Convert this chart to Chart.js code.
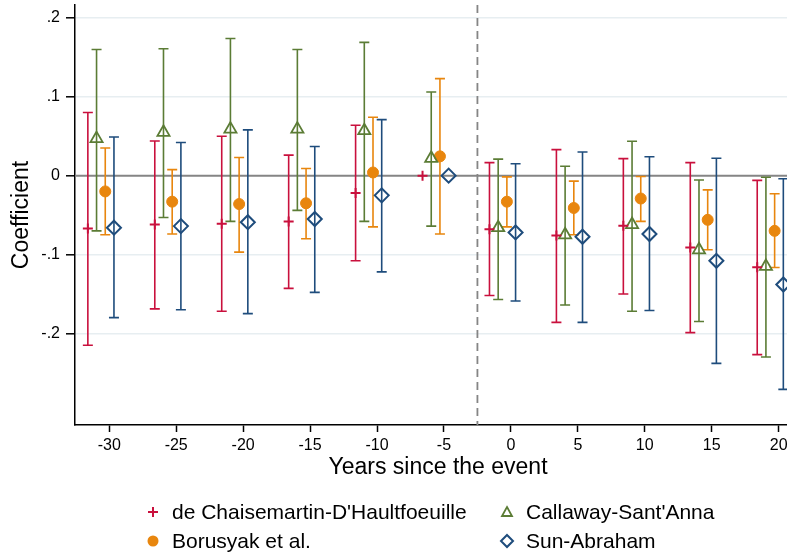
<!DOCTYPE html>
<html>
<head>
<meta charset="utf-8">
<script src="https://cdn.jsdelivr.net/npm/chart.js@4.4.1/dist/chart.umd.min.js"></script>
<style>
  html, body { margin: 0; padding: 0; background: #fff; overflow: hidden; }
  #wrap { position: relative; width: 787px; height: 553px; overflow: hidden; }
  #eventChart { position: absolute; left: 0; top: -20px; }
  #legend { position: absolute; left: 0; top: 0; width: 787px; height: 553px; pointer-events: none;
    font-family: "Liberation Sans", Arial, sans-serif; font-size: 21px; color: #000; }
  .item { position: absolute; height: 24px; line-height: 24px; white-space: nowrap; }
  .item svg { position: absolute; top: 0; }
  .item span { position: absolute; top: 0; }
</style>
</head>
<body>
<div id="wrap">
  <canvas id="eventChart" width="810" height="573"></canvas>
  <div id="legend"></div>
</div>
<script>
const years = [-30, -25, -20, -15, -10, -5, 0, 5, 10, 15, 20];
const yTicks = [-0.2, -0.1, 0, 0.1, 0.2];
const yTickLabels = ['-.2', '-.1', '0', '.1', '.2'];

// de Chaisemartin-D'Haultfoeuille
const dcdhEst = [-0.067, -0.062, -0.061, -0.058, -0.022, 0, -0.068, -0.076, -0.0635, -0.091, -0.116];
const dcdhLo = [-0.215, -0.169, -0.172, -0.143, -0.108, null, -0.152, -0.186, -0.150, -0.199, -0.227];
const dcdhHi = [0.080, 0.044, 0.050, 0.026, 0.064, null, 0.0165, 0.033, 0.0216, 0.0165, -0.006];

// Callaway-Sant'Anna
const csEst = [0.047, 0.055, 0.059, 0.059, 0.057, 0.022, -0.066, -0.075, -0.062, -0.094, -0.115];
const csLo = [-0.070, -0.053, -0.058, -0.044, -0.058, -0.064, -0.157, -0.164, -0.172, -0.185, -0.230];
const csHi = [0.160, 0.161, 0.174, 0.160, 0.169, 0.106, 0.021, 0.012, 0.0436, -0.0055, -0.002];

// Borusyak et al.
const bsEst = [-0.020, -0.033, -0.036, -0.035, 0.004, 0.0245, -0.033, -0.041, -0.029, -0.056, -0.070];
const bsLo = [-0.075, -0.074, -0.097, -0.080, -0.065, -0.074, -0.065, -0.075, -0.058, -0.094, -0.1165];
const bsHi = [0.035, 0.0076, 0.023, 0.009, 0.074, 0.123, -0.0015, -0.007, -0.001, -0.018, -0.023];

// Sun-Abraham
const saEst = [-0.066, -0.064, -0.059, -0.055, -0.025, 0, -0.072, -0.0775, -0.074, -0.108, -0.138];
const saLo = [-0.180, -0.170, -0.175, -0.148, -0.122, null, -0.159, -0.186, -0.171, -0.238, -0.271];
const saHi = [0.049, 0.042, 0.058, 0.037, 0.071, null, 0.015, 0.030, 0.024, 0.022, -0.004];

const FONT = '"Liberation Sans", Arial, sans-serif';

const series = [
  { label: "de Chaisemartin-D'Haultfoeuille", est: dcdhEst, lo: dcdhLo, hi: dcdhHi,
    color: '#c9103d', shift: -1.6, style: 'cross', radius: 5, fill: false, bw: 2 },
  { label: "Callaway-Sant'Anna", est: csEst, lo: csLo, hi: csHi,
    color: '#5b7c35', shift: -0.95, style: 'triangle', radius: 7, fill: false, bw: 1.8 },
  { label: 'Borusyak et al.', est: bsEst, lo: bsLo, hi: bsHi,
    color: '#e8860e', shift: -0.3, style: 'circle', radius: 5.5, fill: true, bw: 1 },
  { label: 'Sun-Abraham', est: saEst, lo: saLo, hi: saHi,
    color: '#1e4c7c', shift: 0.35, style: 'rectRot', radius: 7, fill: false, bw: 2 }
];

function toPoints(s) {
  return years.map((yr, i) => ({ x: yr + s.shift, y: s.est[i], lo: s.lo[i], hi: s.hi[i] }));
}

// error bars, zero line and event line, all through the chart scales
const refLines = {
  id: 'refLines',
  beforeDatasetsDraw(chart) {
    const { ctx, chartArea, scales } = chart;
    const x = scales.x, y = scales.y;
    ctx.save();
    ctx.beginPath();
    ctx.rect(chartArea.left, chartArea.top, chartArea.right - chartArea.left, chartArea.bottom - chartArea.top);
    ctx.clip();

    // zero line
    ctx.strokeStyle = '#858585';
    ctx.lineWidth = 2;
    ctx.beginPath();
    ctx.moveTo(chartArea.left, y.getPixelForValue(0));
    ctx.lineTo(chartArea.right, y.getPixelForValue(0));
    ctx.stroke();

    // event line
    const ex = x.getPixelForValue(-2.5);
    ctx.setLineDash([8, 5]);
    ctx.strokeStyle = '#858585';
    ctx.lineWidth = 1.8;
    ctx.beginPath();
    ctx.moveTo(ex, chartArea.top);
    ctx.lineTo(ex, chartArea.bottom);
    ctx.stroke();
    ctx.setLineDash([]);

    chart.data.datasets.forEach((ds) => {
      ctx.strokeStyle = ds.borderColor;
      ctx.lineWidth = 1.6;
      ds.data.forEach((p) => {
        if (p.lo === null || p.hi === null) return;
        const px = x.getPixelForValue(p.x);
        const y1 = y.getPixelForValue(p.lo);
        const y2 = y.getPixelForValue(p.hi);
        ctx.beginPath();
        ctx.moveTo(px, y1);
        ctx.lineTo(px, y2);
        ctx.moveTo(px - 5, y1);
        ctx.lineTo(px + 5, y1);
        ctx.moveTo(px - 5, y2);
        ctx.lineTo(px + 5, y2);
        ctx.stroke();
      });
    });
    ctx.restore();
  }
};

const ctx = document.getElementById('eventChart').getContext('2d');

const chart = new Chart(ctx, {
  type: 'scatter',
  data: {
    datasets: series.map(s => ({
      label: s.label,
      data: toPoints(s),
      pointStyle: s.style,
      pointRadius: s.radius,
      pointHoverRadius: s.radius,
      borderColor: s.color,
      backgroundColor: s.fill ? s.color : 'rgba(0,0,0,0)',
      borderWidth: s.bw,
      showLine: false
    }))
  },
  plugins: [refLines],
  options: {
    responsive: false,
    animation: false,
    layout: { padding: { top: 25, left: 0, right: 0, bottom: 72 } },
    plugins: {
      legend: { display: false },
      tooltip: { enabled: false }
    },
    scales: {
      x: {
        type: 'linear',
        min: -32.56,
        max: 21.67,
        afterBuildTicks: (scale) => { scale.ticks = years.map(v => ({ value: v })); },
        afterFit: (scale) => { scale.height = 56; },
        ticks: {
          color: '#000',
          font: { family: FONT, size: 16 },
          padding: 4,
          maxRotation: 0,
          callback: (v) => String(v)
        },
        grid: { drawOnChartArea: false, drawTicks: true, tickLength: 7, tickColor: '#000', tickWidth: 1.5 },
        border: { color: '#000', width: 1.5 },
        title: {
          display: true,
          text: 'Years since the event',
          color: '#000',
          font: { family: FONT, size: 23 },
          padding: { top: 0, bottom: 0 }
        }
      },
      y: {
        type: 'linear',
        min: -0.3162,
        max: 0.2164,
        afterBuildTicks: (scale) => { scale.ticks = yTicks.map(v => ({ value: v })); },
        afterFit: (scale) => { scale.width = 75; },
        ticks: {
          color: '#000',
          font: { family: FONT, size: 16 },
          padding: 6,
          callback: (v) => yTickLabels[yTicks.findIndex(t => Math.abs(t - v) < 1e-9)]
        },
        grid: {
          color: (c) => (c.tick && c.tick.value === 0 ? 'rgba(0,0,0,0)' : '#e7eef1'),
          lineWidth: 1.6,
          tickLength: 9,
          tickColor: '#000',
          tickWidth: 1.5
        },
        border: { color: '#000', width: 1.5 },
        title: {
          display: true,
          text: 'Coefficient',
          color: '#000',
          font: { family: FONT, size: 23 },
          padding: { top: 8, bottom: 0 }
        }
      }
    }
  }
});

// legend in two columns below the plot
const legendPos = [
  { left: 142, top: 500 },
  { left: 496, top: 500 },
  { left: 142, top: 529 },
  { left: 496, top: 529 }
];
const legendOrder = [0, 1, 2, 3];

function markerSvg(s) {
  const c = s.color;
  let shape = '';
  if (s.style === 'cross') {
    shape = `<path d="M11 7 V17 M6 12 H16" stroke="${c}" stroke-width="2"/>`;
  } else if (s.style === 'triangle') {
    shape = `<path d="M11 7 L16 16 L6 16 Z" fill="none" stroke="${c}" stroke-width="1.8"/>`;
  } else if (s.style === 'circle') {
    shape = `<circle cx="11" cy="12" r="5.5" fill="${c}"/>`;
  } else {
    shape = `<path d="M11 6 L17 12 L11 18 L5 12 Z" fill="none" stroke="${c}" stroke-width="2"/>`;
  }
  return `<svg width="22" height="24" viewBox="0 0 22 24">${shape}</svg>`;
}

const legend = document.getElementById('legend');
legendOrder.forEach((k, i) => {
  const s = series[k];
  const div = document.createElement('div');
  div.className = 'item';
  div.style.left = legendPos[i].left + 'px';
  div.style.top = legendPos[i].top + 'px';
  div.innerHTML = `${markerSvg(s)}<span style="left:30px">${s.label}</span>`;
  legend.appendChild(div);
});
</script>
</body>
</html>
